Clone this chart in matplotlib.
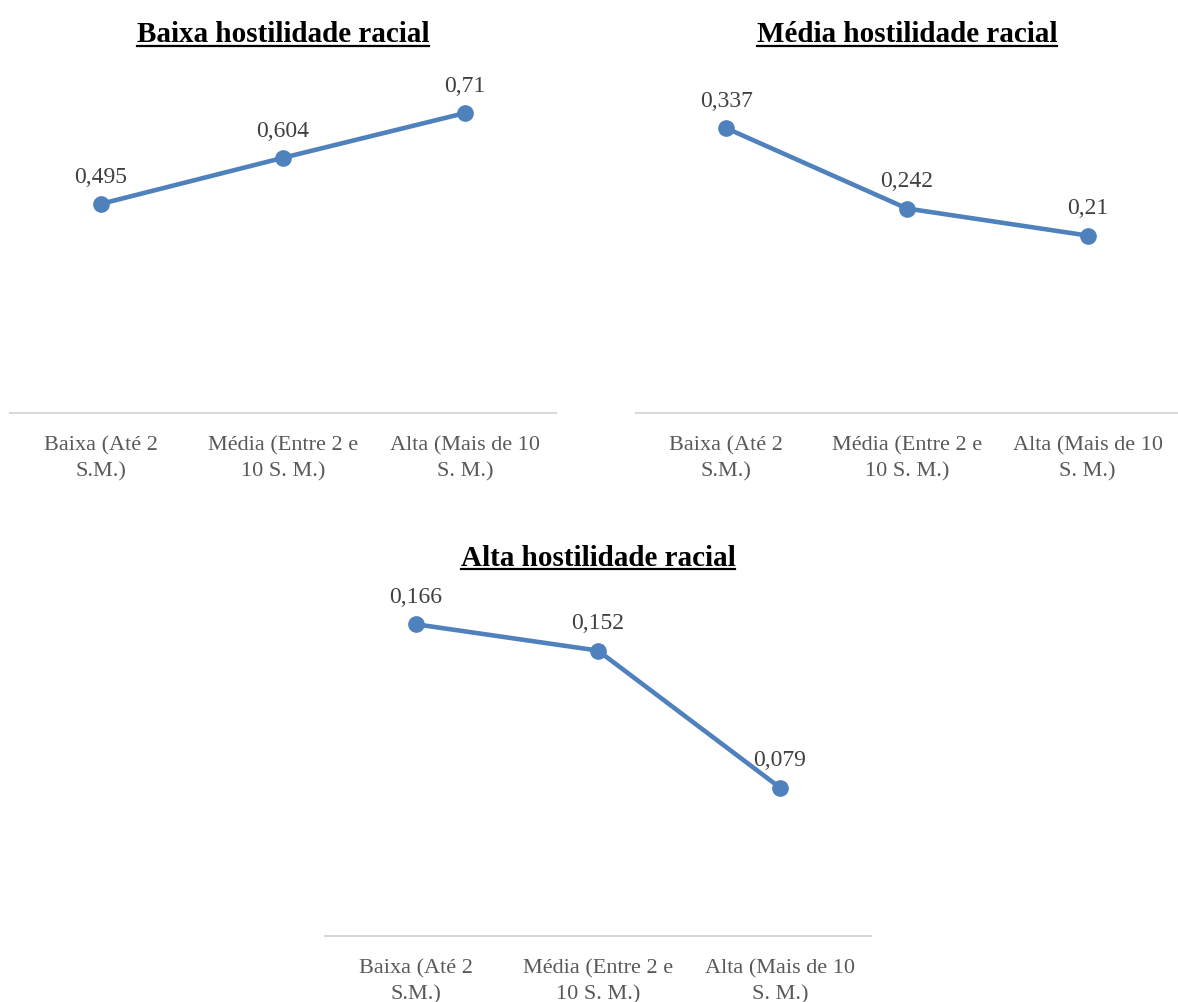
import matplotlib
matplotlib.use("Agg")
import matplotlib.pyplot as plt
from matplotlib.lines import Line2D

plt.rcParams['font.family'] = ['Liberation Serif', 'DejaVu Serif']

categories = ["Baixa (Até 2\nS.M.)", "Média (Entre 2 e\n10 S. M.)", "Alta (Mais de 10\nS. M.)"]
titles = ["Baixa hostilidade racial", "Média hostilidade racial", "Alta hostilidade racial"]
baixa_hostilidade = [0.495, 0.604, 0.71]
media_hostilidade = [0.337, 0.242, 0.21]
alta_hostilidade = [0.166, 0.152, 0.079]
labels_baixa = ["0,495", "0,604", "0,71"]
labels_media = ["0,337", "0,242", "0,21"]
labels_alta = ["0,166", "0,152", "0,079"]
ymax = [0.8, 0.4, 0.18]

W, H = 1178, 1003
fig = plt.figure(figsize=(W / 100, H / 100), dpi=100)

def rect(x0, x1, y_top, y_bot):
    return [x0 / W, (H - y_bot) / H, (x1 - x0) / W, (y_bot - y_top) / H]

rects = [rect(10, 556, 76, 414), rect(636, 1178, 76, 414), rect(325, 871, 599, 937)]
series = [baixa_hostilidade, media_hostilidade, alta_hostilidade]
labels = [labels_baixa, labels_media, labels_alta]

blue = "#4F81BD"
title_texts = []
for r, vals, labs, title, ym in zip(rects, series, labels, titles, ymax):
    ax = fig.add_axes(r)
    x = list(range(len(categories)))
    ax.plot(x, vals, color=blue, lw=3.3, marker='o', markersize=11, solid_capstyle='round')
    for xi, v, lab in zip(x, vals, labs):
        ax.annotate(lab, (xi, v), xytext=(0, 20), textcoords='offset points',
                    ha='center', va='center', fontsize=17, color='#404040')
    ax.set_xlim(-0.5, 2.5)
    ax.set_ylim(0, ym)
    ax.set_xticks(x)
    ax.set_xticklabels(categories, fontsize=16, color='#595959', linespacing=1.45)
    ax.tick_params(axis='x', length=0, pad=16)
    ax.set_yticks([])
    for s in ['top', 'right', 'left']:
        ax.spines[s].set_visible(False)
    ax.spines['bottom'].set_color('#D9D9D9')
    ax.spines['bottom'].set_linewidth(1.5)
    ax.patch.set_alpha(0)
    t = ax.text(0.5, 1.0, title, transform=ax.transAxes, ha='center', va='center',
                fontsize=21, fontweight='bold', color='black')
    t.set_position((0.5, 1 + 41 / (r[3] * H)))
    title_texts.append(t)

fig.canvas.draw()
renderer = fig.canvas.get_renderer()
for t in title_texts:
    bb = t.get_window_extent(renderer)
    y = bb.y0 + 2
    fig.add_artist(Line2D([bb.x0 / W, bb.x1 / W], [y / H, y / H], color='black', lw=1.6,
                          transform=fig.transFigure))

fig.savefig("out.png", dpi=100)
